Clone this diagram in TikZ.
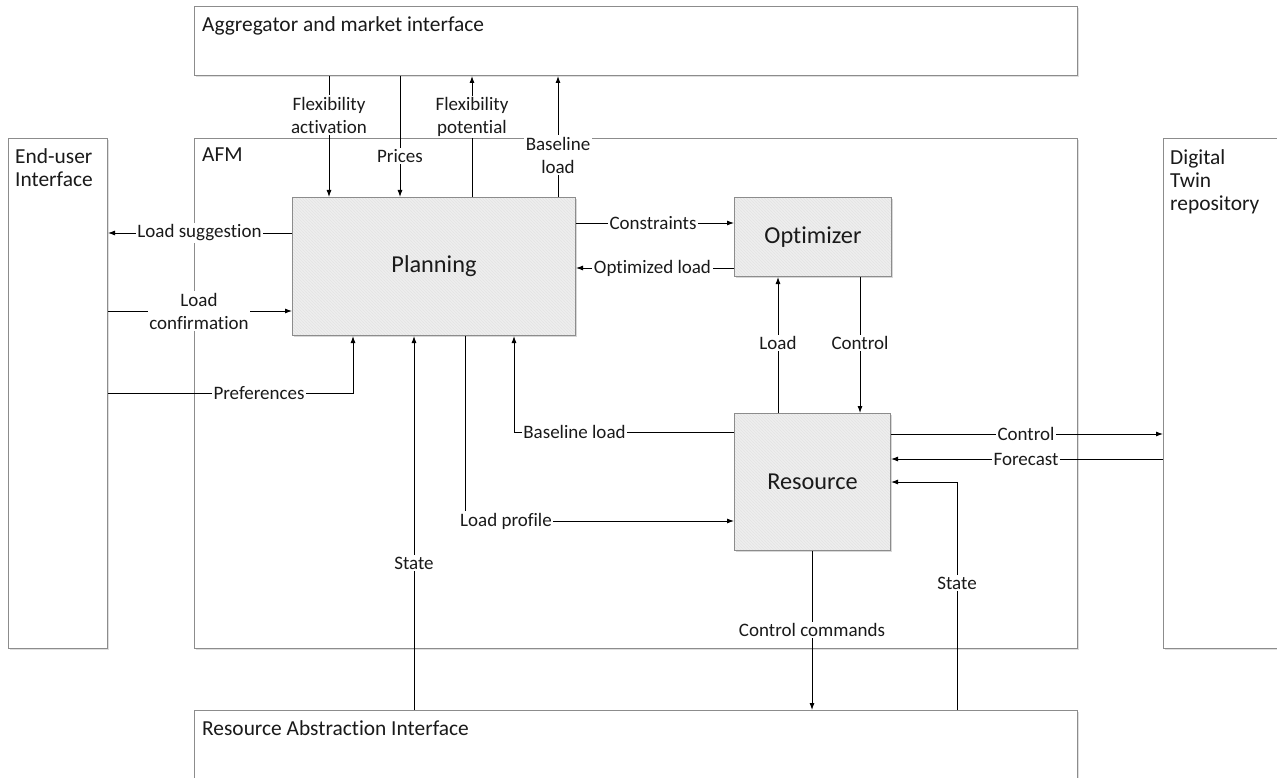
\documentclass[tikz,border=0pt]{standalone}
\usepackage{fontspec}
\setmainfont{Carlito}[Ligatures=NoCommon]
\usetikzlibrary{arrows.meta,shadows,patterns}
\definecolor{boxline}{HTML}{8C8C8C}
\definecolor{boxfill}{HTML}{EEEEEE}
\definecolor{hatch}{HTML}{E4E4E4}
\definecolor{txt}{HTML}{1A1A1A}
\newcommand\lblfont{\fontsize{19}{23}\selectfont}
\newcommand\ttlfont{\fontsize{21.4}{23}\selectfont}
\newcommand\blockfont{\fontsize{24.3}{28}\selectfont}

\begin{document}
\begin{tikzpicture}[x=1pt,y=-1pt,
  frame/.style={draw=boxline, line width=1pt, fill=white,
    drop shadow={shadow xshift=1.5pt, shadow yshift=-1.5pt, opacity=0.25},
    anchor=north west, inner sep=0pt},
  block/.style={draw=boxline, line width=1pt, fill=boxfill,
    postaction={pattern=north west lines, pattern color=hatch},
    postaction={draw=boxline, line width=1pt},
    drop shadow={shadow xshift=1.5pt, shadow yshift=-1.5pt, opacity=0.3},
    anchor=north west, inner sep=0pt, font=\blockfont, text=txt},
  ttl/.style={anchor=north west, inner sep=0pt, font=\ttlfont, text=txt, align=left},
  lbl/.style={fill=white, inner sep=1.5pt, font=\lblfont, text=txt, align=center},
  arr/.style={draw=black, line width=0.9pt, -{Latex[length=7pt,width=5pt]}}
]
\useasboundingbox (0,0) rectangle (1277,778);
\clip (0,0) rectangle (1277,778);

% outer frames
\node[frame, minimum width=883pt, minimum height=69pt]  (agg) at (194,6)   {};
\node[frame, minimum width=883pt, minimum height=510pt] (afm) at (194,138) {};
\node[frame, minimum width=99pt,  minimum height=510pt] (eu)  at (8,138)   {};
\node[frame, minimum width=130pt, minimum height=510pt] (dt)  at (1163,138) {};
\node[frame, minimum width=883pt, minimum height=100pt] (rai) at (194,710) {};

% frame titles
\node[ttl] (aggT) at (202,16)  {Aggregator and market interface};
\node[ttl] (afmT) at (202,148) {AFM};
\node[ttl] (euT)  at (15,148)  {End-user\\Interface};
\node[ttl] (dtT)  at (1170,149) {Digital\\Twin\\repository};
\node[ttl] (raiT) at (202,720) {Resource Abstraction Interface};

% functional blocks
\node[block, minimum width=283pt, minimum height=138pt] (plan) at (292,197) {Planning};
\node[block, minimum width=157pt, minimum height=79pt]  (opt)  at (734,197) {Optimizer};
\node[block, minimum width=156pt, minimum height=137pt] (res)  at (734,413) {Resource};

% connector positions
\coordinate (xFA) at (329,0);
\coordinate (xPr) at (400,0);
\coordinate (xFP) at (472,0);
\coordinate (xBT) at (558,0);
\coordinate (yLS) at (0,233);
\coordinate (yLC) at (0,311);
\coordinate (yPf) at (0,393);
\coordinate (xPf) at (353,0);
\coordinate (xSL) at (414,0);
\coordinate (xLP) at (465,0);
\coordinate (yLP) at (0,521);
\coordinate (xBL) at (514,0);
\coordinate (yBL) at (0,432);
\coordinate (yCs) at (0,223);
\coordinate (yOL) at (0,268);
\coordinate (xLd) at (778,0);
\coordinate (xCt) at (860,0);
\coordinate (yCR) at (0,434);
\coordinate (yFc) at (0,459);
\coordinate (xSR) at (957,0);
\coordinate (ySR) at (0,482);
\coordinate (xCC) at (812,0);

% connectors
\draw[arr] (agg.south -| xFA) -- (plan.north -| xFA);
\draw[arr] (agg.south -| xPr) -- (plan.north -| xPr);
\draw[arr] (plan.north -| xFP) -- (agg.south -| xFP);
\draw[arr] (plan.north -| xBT) -- (agg.south -| xBT);
\draw[arr] (plan.west |- yLS) -- (eu.east |- yLS);
\draw[arr] (eu.east |- yLC) -- (plan.west |- yLC);
\draw[arr] (eu.east |- yPf) -| (plan.south -| xPf);
\draw[arr] (rai.north -| xSL) -- (plan.south -| xSL);
\draw[arr] (plan.south -| xLP) |- (res.west |- yLP);
\draw[arr] (res.west |- yBL) -| (plan.south -| xBL);
\draw[arr] (plan.east |- yCs) -- (opt.west |- yCs);
\draw[arr] (opt.west |- yOL) -- (plan.east |- yOL);
\draw[arr] (res.north -| xLd) -- (opt.south -| xLd);
\draw[arr] (opt.south -| xCt) -- (res.north -| xCt);
\draw[arr] (res.east |- yCR) -- (dt.west |- yCR);
\draw[arr] (dt.west |- yFc) -- (res.east |- yFc);
\draw[arr] (rai.north -| xSR) |- (res.east |- ySR);
\draw[arr] (res.south -| xCC) -- (rai.north -| xCC);

% connector labels
\node[lbl] (lFA) at (329,115) {Flexibility\\activation};
\node[lbl] (lPr) at (400,156) {Prices};
\node[lbl] (lFP) at (472,117) {Flexibility\\potential};
\node[lbl] (lBT) at (558,155) {Baseline\\load};
\node[lbl] (lLS) at (199.5,233) {Load suggestion};
\node[lbl] (lLC) at (199,311) {Load\\confirmation};
\node[lbl] (lPf) at (259,393) {Preferences};
\node[lbl] (lSL) at (414,563) {State};
\node[lbl] (lLP) at (506,521) {Load profile};
\node[lbl] (lBL) at (574.5,432) {Baseline load};
\node[lbl] (lCs) at (653,223) {Constraints};
\node[lbl] (lOL) at (652.5,268) {Optimized load};
\node[lbl] (lLd) at (778,343) {Load};
\node[lbl] (lCt) at (860,343) {Control};
\node[lbl] (lCR) at (1026,434) {Control};
\node[lbl] (lFc) at (1026,459) {Forecast};
\node[lbl] (lSR) at (957,583) {State};
\node[lbl] (lCC) at (812,630) {Control commands};
\end{tikzpicture}
\end{document}
